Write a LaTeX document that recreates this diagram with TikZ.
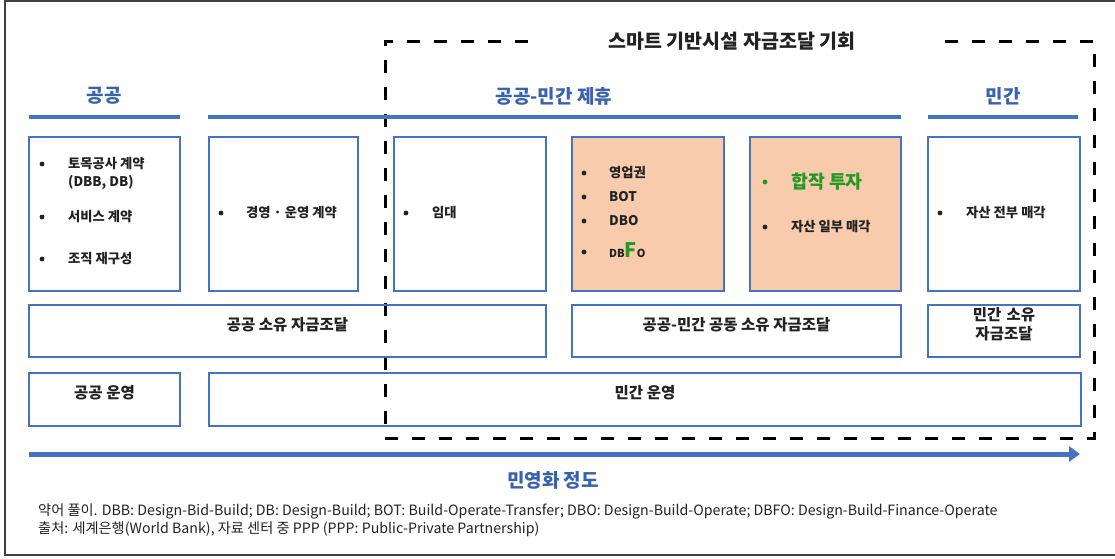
\documentclass[tikz,border=0pt]{standalone}
\usepackage{fontspec}
\setmainfont{Noto Sans CJK KR}
\usepackage{xcolor}
\usetikzlibrary{arrows.meta,fit}

\definecolor{frameblue}{HTML}{4472C4}
\definecolor{headblue}{HTML}{3762B0}
\definecolor{peach}{HTML}{F8CBAD}
\definecolor{jvgreen}{HTML}{1F9A22}
\definecolor{ink}{HTML}{222222}

\begin{document}
\begin{tikzpicture}[x=1pt,y=-1pt,
    box/.style={draw=frameblue,line width=1.8pt,inner sep=0pt,text=ink,
        font={\fontsize{15.5}{19}\selectfont\bfseries}},
    peachbox/.style={box,fill=peach},
    head/.style={text=headblue,font={\fontsize{19}{22}\selectfont\bfseries}},
    title/.style={text=ink,font={\fontsize{19.5}{22}\selectfont\bfseries}},
    bar/.style={frameblue,line width=4.3pt},
    dot/.style={circle,fill=ink,inner sep=0pt,minimum size=4.8pt},
    item/.style={anchor=west,inner sep=0pt,text=ink,
        font={\fontsize{13.3}{16}\selectfont\bfseries}},
    chance/.style={line width=3pt,dash pattern=on 13pt off 14pt},
    progress/.style={-{Triangle[length=11pt,width=15pt]},frameblue,line width=5pt},
    note/.style={anchor=west,inner sep=0pt,text=ink,
        font={\fontsize{14.2}{16}\selectfont}},
    ]
    \useasboundingbox (0,0) rectangle (1115,558);
    % outer frame
    \draw[black!75,line width=1.2pt] (1116,1) -- (5,1) -- (5,555) -- (1116,555);

    % Opportunity frame
    \draw[chance] (528,41) -- (385,41) -- (385,438) -- (1094,438) -- (1094,41) -- (942,41);
    \node[title] (title) at (732,41) {스마트 기반시설 자금조달 기회};

    % Headers
    \node[head] (pubhead) at (104,96) {공공};
    \node[head] (ppphead) at (554,96) {공공-민간 제휴};
    \node[head] (privhead) at (1003,96) {민간};
    \draw[bar] (29,117) -- (180,117);
    \draw[bar] (208,117) -- (901,117);
    \draw[bar] (928,117) -- (1078,117);

    % Contract boxes
    \node[box,fit={(29,137) (180,291)}] (civil) {};
    \node[box,fit={(209,137) (358,291)}] (mgmt) {};
    \node[box,fit={(394,137) (546,291)}] (lease) {};
    \node[peachbox,fit={(572,137) (724,291)}] (conc) {};
    \node[peachbox,fit={(750,137) (901,291)}] (joint) {};
    \node[box,fit={(928,137) (1080,291)}] (sale) {};

    % civil works
    \node[dot] (civildot1) at (42,164) {};
    \node[item] (civiltxt1) at (68,164) {토목공사 계약};
    \node[item] (civiltxt2) at (68,182) {(DBB, DB)};
    \node[dot] (civildot2) at (42,217) {};
    \node[item] (civiltxt3) at (68,217) {서비스 계약};
    \node[dot] (civildot3) at (42,259) {};
    \node[item] (civiltxt4) at (68,259) {조직 재구성};
    % management
    \node[dot] (mgmtdot) at (221,213) {};
    \node[item] (mgmttxt) at (246,213) {경영 · 운영 계약};
    % lease
    \node[dot] (leasedot) at (406,213) {};
    \node[item] (leasetxt) at (432,213) {임대};
    % concessions
    \node[dot] (concdot1) at (584,173) {};
    \node[item] (conctxt1) at (609,173) {영업권};
    \node[dot] (concdot2) at (584,197) {};
    \node[item] (conctxt2) at (609,197) {BOT};
    \node[dot] (concdot3) at (584,221) {};
    \node[item] (conctxt3) at (609,221) {DBO};
    \node[dot] (concdot4) at (584,252) {};
    \node[item,anchor=base west] (conctxt4) at (609,257)
        {{\fontsize{11}{12}\selectfont DB}{\color{jvgreen}\fontsize{20}{20}\selectfont F}{\fontsize{11}{12}\selectfont O}};
    % joint venture
    \node[dot,fill=jvgreen] (jointdot1) at (765,182) {};
    \node[item,text=jvgreen,font={\fontsize{18.3}{21}\selectfont\bfseries}] (jointtxt1) at (791,182) {합작 투자};
    \node[dot] (jointdot2) at (765,227) {};
    \node[item] (jointtxt2) at (791,227) {자산 일부 매각};
    % full divestiture
    \node[dot] (saledot) at (940,213) {};
    \node[item] (saletxt) at (966,213) {자산 전부 매각};

    % Ownership
    \node[box,fit={(29,305) (546,357)}] (pubfund) {공공 소유 자금조달};
    \node[box,fit={(572,305) (901,357)}] (pppfund) {공공-민간 공동 소유 자금조달};
    \node[box,fit={(928,305) (1080,357)},align=center] (privfund) {민간 소유\\자금조달};

    % Operation
    \node[box,fit={(29,373) (180,426)}] (pubop) {공공 운영};
    \node[box,fit={(209,373) (1081,426)}] (privop) {민간 운영};

    % Degree of privatisation
    \coordinate (low) at (29,454);
    \coordinate (high) at (1080,454);
    \draw[progress] (low) -- (high);
    \node[head] (degree) at (553,480) {민영화 정도};

    % Notes
    \node[note] (abbr) at (38,511) {약어 풀이. DBB: Design-Bid-Build; DB: Design-Build; BOT: Build-Operate-Transfer; DBO: Design-Build-Operate; DBFO: Design-Build-Finance-Operate};
    \node[note] (source) at (38,529) {출처: 세계은행(World Bank), 자료 센터 중 PPP (PPP: Public-Private Partnership)};
\end{tikzpicture}
\end{document}
